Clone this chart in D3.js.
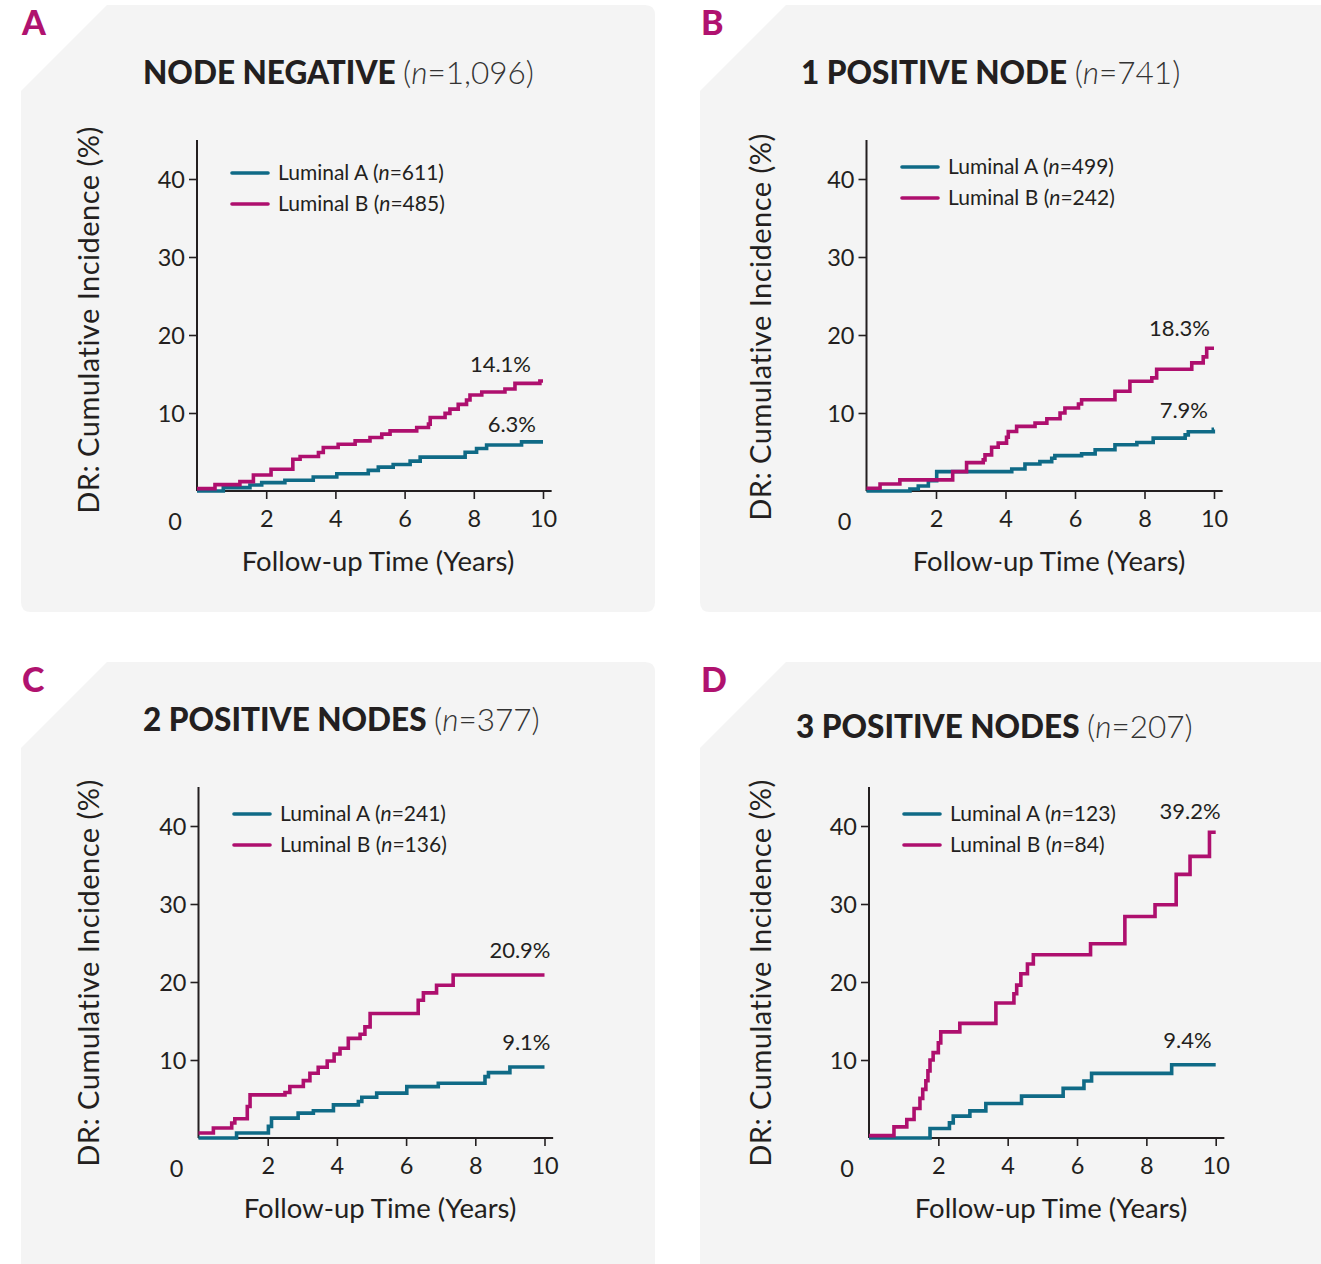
<!DOCTYPE html>
<html>
<head>
<meta charset="utf-8">
<script src="https://cdn.jsdelivr.net/npm/d3@7"></script>
<style>
  body { margin: 0; background: #fff; }
  svg text { font-family: Lato, "Open Sans", sans-serif; fill: #231f20; }
</style>
</head>
<body>
<div class="chart"></div>
<script>
// ---- data ----
const panels = ["A", "B", "C", "D"];
const titlesBold = ["NODE NEGATIVE", "1 POSITIVE NODE", "2 POSITIVE NODES", "3 POSITIVE NODES"];
const titlesN = ["1,096", "741", "377", "207"];
const nLumA = ["611", "499", "241", "123"];
const nLumB = ["485", "242", "136", "84"];
const endLumA = ["6.3%", "7.9%", "9.1%", "9.4%"];
const endLumB = ["14.1%", "18.3%", "20.9%", "39.2%"];
const xTicks = [2, 4, 6, 8, 10];
const yTicks = [10, 20, 30, 40];

// [years, cumulative incidence %]
const nodeNegLumA = [[0,0],[0.76,0.43],[1.53,0.77],[1.87,1.07],[2.54,1.37],[3.36,1.8],[4.04,2.22],[4.95,2.64],[5.24,3.06],[5.67,3.4],[6.16,3.83],[6.45,4.34],[7.75,4.97],[8.08,5.44],[8.37,5.9],[9.38,6.3],[10,6.3]];
const nodeNegLumB = [[0,0.3],[0.52,0.82],[1.24,1.2],[1.63,2.06],[2.14,2.79],[2.77,4.07],[2.98,4.42],[3.51,4.93],[3.65,5.58],[4.08,6.0],[4.57,6.43],[5.0,6.86],[5.34,7.29],[5.58,7.71],[6.35,8.15],[6.69,8.57],[6.74,9.43],[7.17,9.95],[7.31,10.5],[7.55,11.1],[7.79,11.66],[7.89,12.3],[8.23,12.7],[8.9,13.07],[9.19,13.8],[9.91,14.1],[10,14.1]];
const oneNodeLumA = [[0,0],[1.25,0.26],[1.49,0.64],[1.78,1.33],[2.02,2.48],[4.18,2.83],[4.56,3.47],[4.99,3.77],[5.33,4.2],[5.42,4.54],[6.19,4.76],[6.58,5.28],[7.15,5.92],[7.78,6.22],[8.25,6.78],[9.17,7.2],[9.26,7.6],[9.98,7.9],[10,7.9]];
const oneNodeLumB = [[0,0.35],[0.39,0.9],[0.96,1.42],[2.48,2.48],[2.88,3.64],[3.36,3.99],[3.41,4.63],[3.6,5.6],[3.79,6.14],[4.03,6.9],[4.08,7.63],[4.32,8.28],[4.85,8.7],[5.19,9.27],[5.57,10.0],[5.71,10.64],[6.1,11.16],[6.19,11.7],[7.15,12.78],[7.58,14.07],[8.21,14.5],[8.35,15.6],[9.36,16.43],[9.69,17.2],[9.79,18.3],[10,18.3]];
const twoNodesLumA = [[0,0],[1.1,0.64],[2.02,1.49],[2.11,2.55],[2.88,3.19],[3.32,3.49],[3.9,4.25],[4.62,4.68],[4.72,5.23],[5.15,5.75],[6.02,6.59],[6.93,7.02],[8.28,7.87],[8.38,8.38],[9.0,9.1],[10,9.1]];
const twoNodesLumB = [[0,0.64],[0.43,1.28],[0.96,1.92],[1.05,2.46],[1.41,4.04],[1.49,5.53],[2.5,5.83],[2.64,6.6],[3.03,7.36],[3.22,8.3],[3.46,9.07],[3.72,9.87],[3.92,10.77],[4.09,11.5],[4.33,12.77],[4.67,13.3],[4.81,14.25],[4.96,15.96],[6.35,17.66],[6.5,18.6],[6.88,19.58],[7.36,20.9],[10,20.9]];
const threeNodesLumA = [[0,0],[1.76,1.22],[2.32,1.94],[2.43,2.8],[2.91,3.48],[3.37,4.43],[4.4,5.37],[5.6,6.36],[6.2,7.3],[6.42,8.29],[8.73,9.4],[10,9.4]];
const threeNodesLumB = [[0,0.3],[0.72,1.43],[1.09,2.37],[1.3,3.79],[1.47,5.08],[1.55,6.23],[1.64,7.34],[1.7,8.6],[1.76,10.0],[1.85,10.94],[2.0,12.2],[2.07,13.6],[2.62,14.7],[3.66,17.3],[4.18,18.5],[4.26,19.6],[4.38,21.05],[4.57,22.3],[4.74,23.5],[6.39,24.9],[7.38,28.4],[8.25,29.9],[8.86,33.8],[9.26,36.1],[9.82,39.2],[10,39.2]];

const lumA = [nodeNegLumA, oneNodeLumA, twoNodesLumA, threeNodesLumA];
const lumB = [nodeNegLumB, oneNodeLumB, twoNodesLumB, threeNodesLumB];

// ---- layout ----
const teal = "#0f6a86", magenta = "#ae0f6e";
const layout = [
  {card: [21, 5, 655, 612], x0: 197, y0: 491, pxYr: 34.6, title: [143, 84], leg: [232, 173], ylab: [99, 320], xlab: [378, 571], offA: [-7, -10], offB: [-12, -9]},
  {card: [700, 5, 1340, 612], x0: 866.5, y0: 491, pxYr: 34.75, title: [801, 84], leg: [902, 167], ylab: [771, 327], xlab: [1049, 571], offA: [-6, -11], offB: [-4, -12]},
  {card: [21, 662, 655, 1290], x0: 198.5, y0: 1138, pxYr: 34.6, title: [143, 731], leg: [234, 814], ylab: [99, 973], xlab: [380, 1218], offA: [6, -17], offB: [6, -17]},
  {card: [700, 662, 1340, 1290], x0: 869, y0: 1138, pxYr: 34.67, title: [796, 738], leg: [904, 814], ylab: [771, 973], xlab: [1051, 1218], offA: [-4, -17], offB: [5, -13]}
];

const svg = d3.select(".chart").append("svg")
  .attr("width", 1321)
  .attr("height", 1264);

function cardPath(l, t, r, b) {
  const c = 86, rad = 10;
  return `M${l},${t + c} L${l + c},${t} L${r - rad},${t} Q${r},${t} ${r},${t + rad} L${r},${b - rad} Q${r},${b} ${r - rad},${b} L${l + rad},${b} Q${l},${b} ${l},${b - rad} Z`;
}

panels.forEach(function(letter, i) {
  const L = layout[i];
  const g = svg.append("g").attr("class", "panel-" + letter);

  g.append("path")
    .attr("d", cardPath(...L.card))
    .attr("fill", "#f4f4f4");

  g.append("text")
    .attr("x", L.card[0] + 1)
    .attr("y", L.card[1] + 30)
    .style("font-size", "34px")
    .style("font-weight", 900)
    .style("fill", "#b0126f")
    .text(letter);

  const title = g.append("text")
    .attr("x", L.title[0])
    .attr("y", L.title[1])
    .style("font-size", "31.5px");
  title.append("tspan").style("font-weight", 900).text(titlesBold[i] + " ");
  title.append("tspan").style("font-weight", 300).style("fill", "#333").text("(");
  title.append("tspan").style("font-weight", 300).style("font-style", "italic").style("fill", "#333").text("n");
  title.append("tspan").style("font-weight", 300).style("fill", "#333").text("=" + titlesN[i] + ")");

  const x = d3.scaleLinear().domain([0, 10]).range([L.x0, L.x0 + 10 * L.pxYr]);
  const y = d3.scaleLinear().domain([0, 45]).range([L.y0, L.y0 - 351]);

  // axes
  const xAxis = d3.axisBottom(x).tickValues(xTicks).tickSizeInner(8).tickSizeOuter(0).tickPadding(6);
  const yAxis = d3.axisLeft(y).tickValues(yTicks).tickSizeInner(8).tickSizeOuter(0).tickPadding(4);

  const gx = g.append("g").attr("transform", `translate(0,${L.y0})`).call(xAxis);
  const gy = g.append("g").attr("transform", `translate(${L.x0},0)`).call(yAxis);
  [gx, gy].forEach(a => {
    a.select(".domain").remove();
    a.selectAll(".tick line").attr("stroke", "#231f20").attr("stroke-width", 1.6);
    a.selectAll(".tick text").style("font-size", "23.5px").style("font-family", "Lato, sans-serif").attr("fill", "#231f20");
  });
  gx.selectAll(".tick text").attr("dy", "0.95em");
  gy.selectAll(".tick text").attr("dy", "0.36em");

  g.append("line")
    .attr("x1", x(0)).attr("x2", x(10.25))
    .attr("y1", y(0)).attr("y2", y(0))
    .attr("stroke", "#231f20").attr("stroke-width", 2);
  g.append("line")
    .attr("x1", x(0)).attr("x2", x(0))
    .attr("y1", y(0)).attr("y2", y(45))
    .attr("stroke", "#231f20").attr("stroke-width", 2);

  // corner zero
  g.append("text")
    .attr("x", x(0) - 22)
    .attr("y", y(0) + 39)
    .attr("text-anchor", "middle")
    .style("font-size", "23.5px")
    .text("0");

  // axis titles
  g.append("text")
    .attr("transform", `translate(${L.ylab[0]},${L.ylab[1]}) rotate(-90)`)
    .attr("text-anchor", "middle")
    .style("font-size", "29px")
    .style("letter-spacing", "0.5px")
    .text("DR: Cumulative Incidence (%)");
  g.append("text")
    .attr("x", L.xlab[0])
    .attr("y", L.xlab[1])
    .attr("text-anchor", "middle")
    .style("font-size", "27.5px")
    .text("Follow-up Time (Years)");

  // curves
  const line = d3.line()
    .x(d => x(d[0]))
    .y(d => y(d[1]))
    .curve(d3.curveStepAfter);

  g.append("path").datum(lumA[i])
    .attr("d", line)
    .attr("fill", "none")
    .attr("stroke", teal)
    .attr("stroke-width", 3.6);
  g.append("path").datum(lumB[i])
    .attr("d", line)
    .attr("fill", "none")
    .attr("stroke", magenta)
    .attr("stroke-width", 3.6);

  // end labels
  const lastA = lumA[i][lumA[i].length - 1], lastB = lumB[i][lumB[i].length - 1];
  g.append("text")
    .attr("x", x(10) + L.offA[0])
    .attr("y", y(lastA[1]) + L.offA[1])
    .attr("text-anchor", "end")
    .style("font-size", "22px")
    .text(endLumA[i]);
  g.append("text")
    .attr("x", x(10) + L.offB[0])
    .attr("y", y(lastB[1]) + L.offB[1])
    .attr("text-anchor", "end")
    .style("font-size", "22px")
    .text(endLumB[i]);

  // legend
  const leg = [["Luminal A", nLumA[i], teal], ["Luminal B", nLumB[i], magenta]];
  leg.forEach(function(d, k) {
    const ly = L.leg[1] + k * 31;
    g.append("line")
      .attr("x1", L.leg[0]).attr("x2", L.leg[0] + 36)
      .attr("y1", ly).attr("y2", ly)
      .attr("stroke", d[2]).attr("stroke-width", 3.6)
      .attr("stroke-linecap", "round");
    const t = g.append("text")
      .attr("x", L.leg[0] + 46)
      .attr("y", ly + 7)
      .style("font-size", "21px");
    t.append("tspan").text(d[0] + " (");
    t.append("tspan").style("font-style", "italic").text("n");
    t.append("tspan").text("=" + d[1] + ")");
  });
});
</script>
</body>
</html>
